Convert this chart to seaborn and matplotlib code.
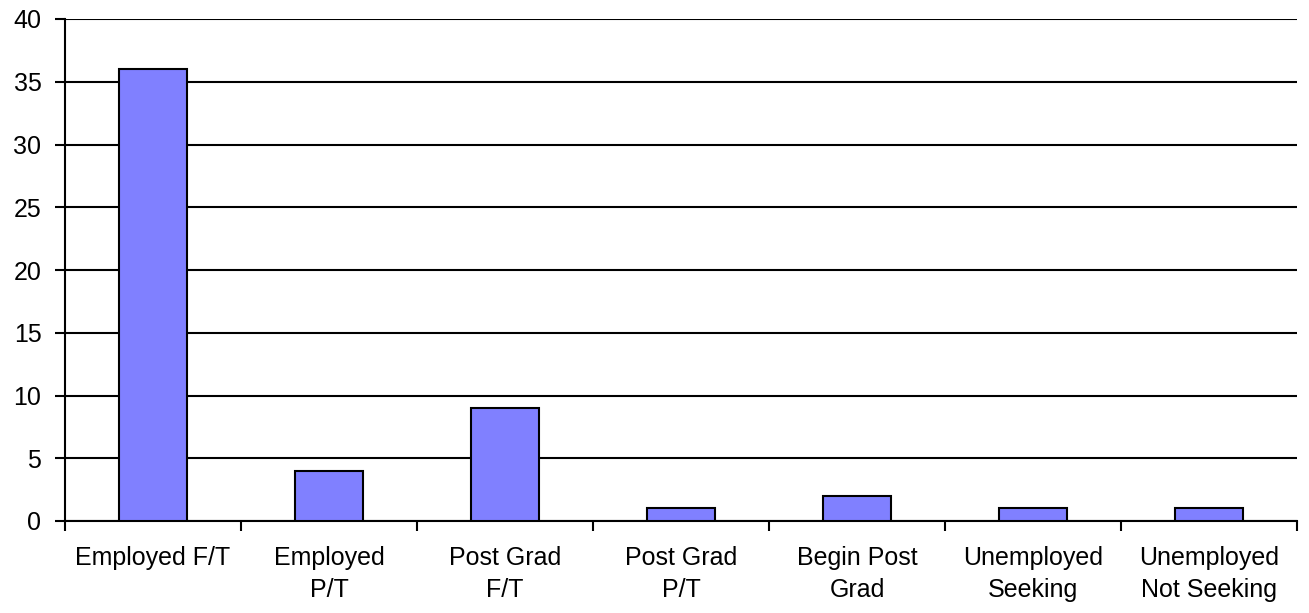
import matplotlib
matplotlib.use("Agg")
import matplotlib.pyplot as plt
import seaborn as sns
import pandas as pd

categories = ["Employed F/T", "Employed\nP/T", "Post Grad\nF/T", "Post Grad\nP/T",
              "Begin Post\nGrad", "Unemployed\nSeeking", "Unemployed\nNot Seeking"]
values = [36, 4, 9, 1, 2, 1, 1]
yticks = [0, 5, 10, 15, 20, 25, 30, 35, 40]

sns.set_theme(style="white")
plt.rcParams['font.family'] = ['Liberation Sans', 'DejaVu Sans']
plt.rcParams['text.color'] = 'black'
plt.rcParams['xtick.color'] = 'black'
plt.rcParams['ytick.color'] = 'black'

df = pd.DataFrame({"cat": categories, "val": values})
fig = plt.figure(figsize=(13.09, 6.13), dpi=100)
ax = fig.add_axes([65/1309, 1 - 521/613, (1297-65)/1309, (521-19)/613])

sns.barplot(data=df, x="cat", y="val", ax=ax, color="#8080FF", saturation=1,
            width=0.39, edgecolor="black", linewidth=1.5, zorder=3)

ax.set_ylim(0, 40)
ax.set_xlim(-0.5, len(categories) - 0.5)
ax.set_yticks(yticks)
ax.set_yticklabels([str(t) for t in yticks], fontsize=18)
ax.yaxis.grid(True, color="black", linewidth=1.5, zorder=0)
ax.set_axisbelow(True)

# category boundary ticks
ax.set_xticks([i - 0.5 for i in range(len(categories) + 1)], minor=False)
ax.set_xticklabels([])
ax.set_xticks(range(len(categories)), minor=True)
ax.set_xticklabels(categories, minor=True, fontsize=18, linespacing=1.4)
ax.tick_params(axis="x", which="major", direction="out", length=7, width=1.5, color="black", bottom=True)
ax.tick_params(axis="x", which="minor", length=0, pad=18, labelcolor="black")
ax.tick_params(axis="y", direction="out", length=7, width=1.5, color="black", left=True,
               labelsize=18, pad=10, labelcolor="black")

ax.set_xlabel("")
ax.set_ylabel("")
for s in ["top", "right"]:
    ax.spines[s].set_visible(False)
for s in ["left", "bottom"]:
    ax.spines[s].set_color("black")
    ax.spines[s].set_linewidth(1.5)

fig.savefig("out.png", dpi=100)
